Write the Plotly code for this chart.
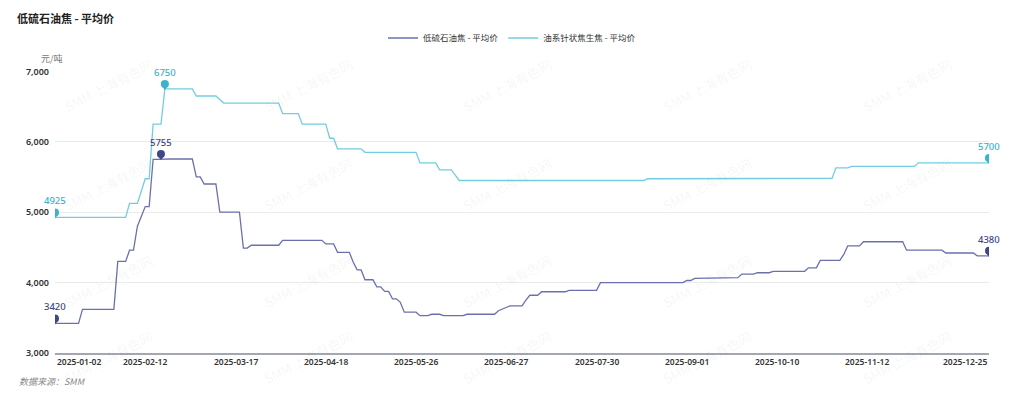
import plotly.graph_objects as go
import pandas as pd

# ---------------- data ----------------
HOLIDAYS = ["2025-01-01", "2025-01-28", "2025-01-29", "2025-01-30", "2025-01-31",
            "2025-02-03", "2025-02-04", "2025-04-04", "2025-05-01", "2025-05-02",
            "2025-05-05", "2025-06-02", "2025-10-01", "2025-10-02", "2025-10-03",
            "2025-10-06", "2025-10-07", "2025-10-08"]
DATES = [d.strftime("%Y-%m-%d") for d in pd.bdate_range("2025-01-02", "2025-12-25")
         if d.strftime("%Y-%m-%d") not in HOLIDAYS]

TICK_LABELS = ["2025-01-02", "2025-02-12", "2025-03-17", "2025-04-18", "2025-05-26",
               "2025-06-27", "2025-07-30", "2025-09-01", "2025-10-10", "2025-11-12",
               "2025-12-25"]

SERIES_NAMES = ["低硫石油焦 - 平均价", "油系针状焦生焦 - 平均价"]

LOW_SULFUR = [
    3420, 3420, 3420, 3420, 3420, 3420, 3420, 3620, 3620, 3620,
    3620, 3620, 3620, 3620, 3620, 3620, 4300, 4300, 4300, 4460,
    4460, 4800, 4950, 5080, 5080, 5750, 5750, 5755, 5755, 5755,
    5755, 5755, 5755, 5755, 5755, 5755, 5500, 5500, 5400, 5400,
    5400, 5400, 5000, 5000, 5000, 5000, 5000, 5000, 4490, 4490,
    4530, 4530, 4530, 4530, 4530, 4530, 4530, 4530, 4600, 4600,
    4600, 4600, 4600, 4600, 4600, 4600, 4600, 4600, 4600, 4550,
    4550, 4550, 4430, 4430, 4430, 4430, 4290, 4180, 4180, 4040,
    4040, 4040, 3940, 3940, 3875, 3875, 3770, 3770, 3720, 3580,
    3580, 3580, 3580, 3530, 3530, 3530, 3550, 3550, 3550, 3530,
    3530, 3530, 3530, 3530, 3530, 3550, 3550, 3550, 3550, 3550,
    3550, 3550, 3550, 3600, 3620, 3650, 3670, 3670, 3670, 3670,
    3750, 3820, 3820, 3820, 3870, 3870, 3870, 3870, 3870, 3870,
    3870, 3890, 3890, 3890, 3890, 3890, 3890, 3890, 3890, 4000,
    4000, 4000, 4000, 4000, 4000, 4000, 4000, 4000, 4000, 4000,
    4000, 4000, 4000, 4000, 4000, 4000, 4000, 4000, 4000, 4000,
    4000, 4030, 4030, 4060, 4060, 4060, 4060, 4060, 4070, 4070,
    4070, 4070, 4070, 4070, 4070, 4120, 4120, 4120, 4120, 4140,
    4140, 4140, 4140, 4160, 4160, 4160, 4160, 4160, 4160, 4160,
    4160, 4160, 4210, 4210, 4210, 4315, 4315, 4315, 4315, 4315,
    4315, 4400, 4520, 4520, 4520, 4520, 4580, 4580, 4580, 4580,
    4580, 4580, 4580, 4580, 4580, 4580, 4580, 4460, 4460, 4460,
    4460, 4460, 4460, 4460, 4460, 4460, 4460, 4420, 4420, 4420,
    4420, 4420, 4420, 4420, 4420, 4380, 4380, 4380, 4380,
]

NEEDLE_COKE = [
    4925, 4925, 4925, 4925, 4925, 4925, 4925, 4925, 4925, 4925,
    4925, 4925, 4925, 4925, 4925, 4925, 4925, 4925, 4925, 5125,
    5125, 5125, 5300, 5475, 5475, 6250, 6250, 6250, 6750, 6750,
    6750, 6750, 6750, 6750, 6750, 6750, 6650, 6650, 6650, 6650,
    6650, 6650, 6600, 6550, 6550, 6550, 6550, 6550, 6550, 6550,
    6550, 6550, 6550, 6550, 6550, 6550, 6550, 6550, 6400, 6400,
    6400, 6400, 6400, 6250, 6250, 6250, 6250, 6250, 6250, 6250,
    6050, 6050, 5900, 5900, 5900, 5900, 5900, 5900, 5900, 5850,
    5850, 5850, 5850, 5850, 5850, 5850, 5850, 5850, 5850, 5850,
    5850, 5850, 5850, 5700, 5700, 5700, 5700, 5700, 5600, 5600,
    5600, 5600, 5525, 5450, 5450, 5450, 5450, 5450, 5450, 5450,
    5450, 5450, 5450, 5450, 5450, 5450, 5450, 5450, 5450, 5450,
    5450, 5450, 5450, 5450, 5450, 5450, 5450, 5450, 5450, 5450,
    5450, 5450, 5450, 5450, 5450, 5450, 5450, 5450, 5450, 5450,
    5450, 5450, 5450, 5450, 5450, 5450, 5450, 5450, 5450, 5450,
    5450, 5475, 5475, 5475, 5475, 5475, 5475, 5475, 5475, 5475,
    5475, 5475, 5475, 5475, 5475, 5475, 5475, 5475, 5475, 5475,
    5475, 5475, 5475, 5475, 5475, 5475, 5475, 5475, 5475, 5475,
    5475, 5475, 5475, 5475, 5475, 5480, 5480, 5480, 5480, 5480,
    5480, 5480, 5480, 5480, 5480, 5480, 5480, 5480, 5480, 5630,
    5630, 5630, 5630, 5650, 5650, 5650, 5650, 5650, 5650, 5650,
    5650, 5650, 5650, 5650, 5650, 5650, 5650, 5650, 5650, 5650,
    5700, 5700, 5700, 5700, 5700, 5700, 5700, 5700, 5700, 5700,
    5700, 5700, 5700, 5700, 5700, 5700, 5700, 5700, 5700,
]

assert len(DATES) == len(LOW_SULFUR) == len(NEEDLE_COKE), (len(DATES), len(LOW_SULFUR), len(NEEDLE_COKE))

# ---------------- style / layout ----------------
OFF = 8                      # default body margin of the html page
W, H = 1024 - 2 * OFF, 399 - 2 * OFF
PLOT_L, PLOT_R, PLOT_T, PLOT_B = 55, 989, 65, 353   # plot area in page pixels
ML, MT = PLOT_L - OFF, PLOT_T - OFF
MR, MB = W - (PLOT_R - OFF), H - (PLOT_B - OFF)
PW, PH = PLOT_R - PLOT_L, PLOT_B - PLOT_T

LINE_COLORS = ["#6b70ad", "#72cde0"]
MARK_COLORS = ["#3f4788", "#3bb3cb"]
FONT = "Noto Sans, Noto Sans CJK SC, sans-serif"
CJK = "Noto Sans CJK SC, Noto Sans, sans-serif"


def pxx(xp):
    """page pixel x -> paper coordinate"""
    return (xp - PLOT_L) / PW


def pxy(yp):
    """page pixel y (from top) -> paper coordinate"""
    return (PLOT_B - yp) / PH


fig = go.Figure()

for name, vals, lc in zip(SERIES_NAMES, [LOW_SULFUR, NEEDLE_COKE], LINE_COLORS):
    fig.add_trace(go.Scatter(x=DATES, y=vals, mode="lines", name=name,
                             line=dict(color=lc, width=1.3), hoverinfo="x+y"))

annotations = []

# pins: first, max, last
for vals, mc in zip([LOW_SULFUR, NEEDLE_COKE], MARK_COLORS):
    idxs = [0, vals.index(max(vals)), len(vals) - 1]
    xs = [DATES[i] for i in idxs]
    ys = [vals[i] for i in idxs]
    fig.add_trace(go.Scatter(x=xs, y=ys, mode="markers", showlegend=False, hoverinfo="skip",
                             marker=dict(symbol="triangle-up", size=6, color=mc,
                                         angle=180, standoff=2, line=dict(width=0))))
    fig.add_trace(go.Scatter(x=xs, y=ys, mode="markers", showlegend=False, hoverinfo="skip",
                             marker=dict(symbol="circle", size=8, color=mc,
                                         angle=180, standoff=5, line=dict(width=0))))
    for xv, yv in zip(xs, ys):
        annotations.append(dict(x=xv, y=yv, xref="x", yref="y", text=str(yv), showarrow=False,
                                yanchor="bottom", yshift=8,
                                font=dict(family=FONT, size=9.5, color=mc, weight=500)))

# x tick labels (first left-aligned, last right-aligned)
for i, lab in enumerate(TICK_LABELS):
    anchor = "left" if i == 0 else ("right" if i == len(TICK_LABELS) - 1 else "center")
    annotations.append(dict(x=lab, y=0, xref="x", yref="paper", text=lab, showarrow=False,
                            xanchor=anchor, yanchor="top", yshift=-1,
                            font=dict(family=FONT, size=8.5, color="#333333", weight=600)))

# unit label
annotations.append(dict(x=pxx(52), y=pxy(52), xref="paper", yref="paper", text="元/吨",
                        showarrow=False, xanchor="center", yanchor="middle",
                        font=dict(family=CJK, size=9, color="#777777")))
# source
annotations.append(dict(x=pxx(17), y=pxy(382), xref="paper", yref="paper",
                        text="<i>数据来源：SMM</i>", showarrow=False, xanchor="left", yanchor="middle",
                        font=dict(family=CJK, size=9, color="#8a8a8a")))
# watermarks
for wy in [79, 181, 280, 358]:
    for wx in [108, 308, 507, 707, 907]:
        annotations.append(dict(x=pxx(wx), y=pxy(wy), xref="paper", yref="paper",
                                text="SMM 上海有色网", showarrow=False, textangle=-27,
                                xanchor="center", yanchor="middle",
                                font=dict(family=CJK, size=13, color="rgba(0,0,0,0.05)")))

fig.update_layout(
    width=W, height=H,
    margin=dict(l=ML, r=MR, t=MT, b=MB, pad=0),
    paper_bgcolor="white", plot_bgcolor="white",
    title=dict(text="<b>低硫石油焦 - 平均价</b>", x=(17 - OFF) / W, xref="container", xanchor="left",
               y=1 - (19 - OFF) / H, yref="container", yanchor="middle",
               font=dict(family=CJK, size=11, color="#222222")),
    legend=dict(orientation="h", x=0.5, xref="container", xanchor="center",
                y=1 - (38 - OFF) / H, yref="container", yanchor="middle",
                font=dict(family=CJK, size=8.5, color="#333333"), itemwidth=30,
                bgcolor="rgba(0,0,0,0)"),
    xaxis=dict(type="category", range=[0, len(DATES) - 1], showticklabels=False, ticks="",
               showgrid=False, showline=True, linecolor="#a3a7b3", linewidth=1.5,
               zeroline=False, fixedrange=True),
    yaxis=dict(range=[3000, 7000], tickvals=[3000, 4000, 5000, 6000, 7000], tickformat=",",
               showgrid=True, gridcolor="#ebebeb", gridwidth=1, zeroline=False, ticks="",
               ticklabelstandoff=5, showline=False,
               tickfont=dict(family=FONT, size=9, color="#333333", weight=600), fixedrange=True),
    annotations=annotations,
    hovermode="x",
)

fig.write_html("out.html")
